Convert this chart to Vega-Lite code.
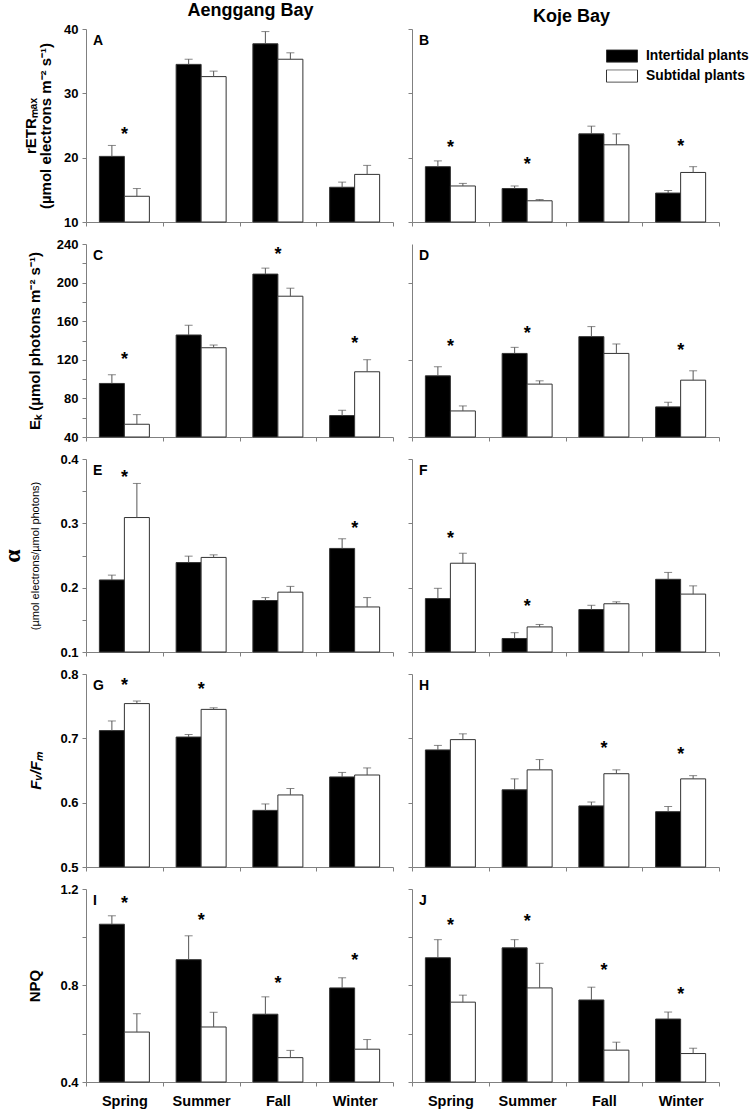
{
 "$schema": "https://vega.github.io/schema/vega-lite/v6.json",
 "padding": {"left": 0, "top": 2, "right": 34, "bottom": 2},
 "background": "white",
 "columns": 2,
 "spacing": {"row": 22, "column": 19},
 "bounds": "flush",
 "resolve": {"scale": {"fill": "independent"}, "legend": {"fill": "independent"}},
 "datasets": {
  "bars": [
   {"p":"A","s":"Spring","g":"Intertidal plants","v":20.2,"e":21.9},
   {"p":"A","s":"Spring","g":"Subtidal plants","v":14.0,"e":15.2},
   {"p":"A","s":"Summer","g":"Intertidal plants","v":34.5,"e":35.3},
   {"p":"A","s":"Summer","g":"Subtidal plants","v":32.6,"e":33.45},
   {"p":"A","s":"Fall","g":"Intertidal plants","v":37.7,"e":39.6},
   {"p":"A","s":"Fall","g":"Subtidal plants","v":35.3,"e":36.3},
   {"p":"A","s":"Winter","g":"Intertidal plants","v":15.4,"e":16.2},
   {"p":"A","s":"Winter","g":"Subtidal plants","v":17.4,"e":18.8},
   {"p":"B","s":"Spring","g":"Intertidal plants","v":18.6,"e":19.5},
   {"p":"B","s":"Spring","g":"Subtidal plants","v":15.6,"e":16.0},
   {"p":"B","s":"Summer","g":"Intertidal plants","v":15.2,"e":15.6},
   {"p":"B","s":"Summer","g":"Subtidal plants","v":13.3,"e":13.5},
   {"p":"B","s":"Fall","g":"Intertidal plants","v":23.7,"e":24.9},
   {"p":"B","s":"Fall","g":"Subtidal plants","v":22.0,"e":23.7},
   {"p":"B","s":"Winter","g":"Intertidal plants","v":14.5,"e":14.9},
   {"p":"B","s":"Winter","g":"Subtidal plants","v":17.7,"e":18.6},
   {"p":"C","s":"Spring","g":"Intertidal plants","v":95.5,"e":104.5},
   {"p":"C","s":"Spring","g":"Subtidal plants","v":53.2,"e":63.2},
   {"p":"C","s":"Summer","g":"Intertidal plants","v":145.7,"e":155.8},
   {"p":"C","s":"Summer","g":"Subtidal plants","v":132.5,"e":135.3},
   {"p":"C","s":"Fall","g":"Intertidal plants","v":208.8,"e":215},
   {"p":"C","s":"Fall","g":"Subtidal plants","v":185.9,"e":194.2},
   {"p":"C","s":"Winter","g":"Intertidal plants","v":62.2,"e":67.7},
   {"p":"C","s":"Winter","g":"Subtidal plants","v":107.6,"e":120.1},
   {"p":"D","s":"Spring","g":"Intertidal plants","v":103.4,"e":112.8},
   {"p":"D","s":"Spring","g":"Subtidal plants","v":67,"e":72.2},
   {"p":"D","s":"Summer","g":"Intertidal plants","v":126.6,"e":132.9},
   {"p":"D","s":"Summer","g":"Subtidal plants","v":94.8,"e":98.2},
   {"p":"D","s":"Fall","g":"Intertidal plants","v":144,"e":154.4},
   {"p":"D","s":"Fall","g":"Subtidal plants","v":126.6,"e":136.4},
   {"p":"D","s":"Winter","g":"Intertidal plants","v":71.2,"e":76},
   {"p":"D","s":"Winter","g":"Subtidal plants","v":98.9,"e":108.6},
   {"p":"E","s":"Spring","g":"Intertidal plants","v":0.212,"e":0.2195},
   {"p":"E","s":"Spring","g":"Subtidal plants","v":0.309,"e":0.362},
   {"p":"E","s":"Summer","g":"Intertidal plants","v":0.239,"e":0.249},
   {"p":"E","s":"Summer","g":"Subtidal plants","v":0.247,"e":0.251},
   {"p":"E","s":"Fall","g":"Intertidal plants","v":0.180,"e":0.1846},
   {"p":"E","s":"Fall","g":"Subtidal plants","v":0.193,"e":0.202},
   {"p":"E","s":"Winter","g":"Intertidal plants","v":0.261,"e":0.276},
   {"p":"E","s":"Winter","g":"Subtidal plants","v":0.170,"e":0.1846},
   {"p":"F","s":"Spring","g":"Intertidal plants","v":0.183,"e":0.199},
   {"p":"F","s":"Spring","g":"Subtidal plants","v":0.238,"e":0.2535},
   {"p":"F","s":"Summer","g":"Intertidal plants","v":0.121,"e":0.130},
   {"p":"F","s":"Summer","g":"Subtidal plants","v":0.139,"e":0.1428},
   {"p":"F","s":"Fall","g":"Intertidal plants","v":0.166,"e":0.1726},
   {"p":"F","s":"Fall","g":"Subtidal plants","v":0.175,"e":0.178},
   {"p":"F","s":"Winter","g":"Intertidal plants","v":0.213,"e":0.2237},
   {"p":"F","s":"Winter","g":"Subtidal plants","v":0.190,"e":0.2028},
   {"p":"G","s":"Spring","g":"Intertidal plants","v":0.712,"e":0.727},
   {"p":"G","s":"Spring","g":"Subtidal plants","v":0.754,"e":0.758},
   {"p":"G","s":"Summer","g":"Intertidal plants","v":0.702,"e":0.706},
   {"p":"G","s":"Summer","g":"Subtidal plants","v":0.745,"e":0.7475},
   {"p":"G","s":"Fall","g":"Intertidal plants","v":0.588,"e":0.598},
   {"p":"G","s":"Fall","g":"Subtidal plants","v":0.612,"e":0.622},
   {"p":"G","s":"Winter","g":"Intertidal plants","v":0.640,"e":0.647},
   {"p":"G","s":"Winter","g":"Subtidal plants","v":0.643,"e":0.654},
   {"p":"H","s":"Spring","g":"Intertidal plants","v":0.682,"e":0.689},
   {"p":"H","s":"Spring","g":"Subtidal plants","v":0.698,"e":0.707},
   {"p":"H","s":"Summer","g":"Intertidal plants","v":0.620,"e":0.637},
   {"p":"H","s":"Summer","g":"Subtidal plants","v":0.651,"e":0.667},
   {"p":"H","s":"Fall","g":"Intertidal plants","v":0.595,"e":0.601},
   {"p":"H","s":"Fall","g":"Subtidal plants","v":0.645,"e":0.651},
   {"p":"H","s":"Winter","g":"Intertidal plants","v":0.586,"e":0.594},
   {"p":"H","s":"Winter","g":"Subtidal plants","v":0.637,"e":0.642},
   {"p":"I","s":"Spring","g":"Intertidal plants","v":1.054,"e":1.089},
   {"p":"I","s":"Spring","g":"Subtidal plants","v":0.607,"e":0.683},
   {"p":"I","s":"Summer","g":"Intertidal plants","v":0.907,"e":1.006},
   {"p":"I","s":"Summer","g":"Subtidal plants","v":0.628,"e":0.689},
   {"p":"I","s":"Fall","g":"Intertidal plants","v":0.681,"e":0.753},
   {"p":"I","s":"Fall","g":"Subtidal plants","v":0.501,"e":0.531},
   {"p":"I","s":"Winter","g":"Intertidal plants","v":0.790,"e":0.832},
   {"p":"I","s":"Winter","g":"Subtidal plants","v":0.536,"e":0.576},
   {"p":"J","s":"Spring","g":"Intertidal plants","v":0.915,"e":0.990},
   {"p":"J","s":"Spring","g":"Subtidal plants","v":0.731,"e":0.760},
   {"p":"J","s":"Summer","g":"Intertidal plants","v":0.956,"e":0.990},
   {"p":"J","s":"Summer","g":"Subtidal plants","v":0.790,"e":0.892},
   {"p":"J","s":"Fall","g":"Intertidal plants","v":0.740,"e":0.793},
   {"p":"J","s":"Fall","g":"Subtidal plants","v":0.532,"e":0.565},
   {"p":"J","s":"Winter","g":"Intertidal plants","v":0.661,"e":0.690},
   {"p":"J","s":"Winter","g":"Subtidal plants","v":0.518,"e":0.540}
  ],
  "stars": [
   {"p":"A","s":"Spring","y":24.3},
   {"p":"B","s":"Spring","y":22.3},{"p":"B","s":"Summer","y":19.6},{"p":"B","s":"Winter","y":22.5},
   {"p":"C","s":"Spring","y":124.9},{"p":"C","s":"Fall","y":234},{"p":"C","s":"Winter","y":142},
   {"p":"D","s":"Spring","y":138.8},{"p":"D","s":"Summer","y":152},{"p":"D","s":"Winter","y":134.6},
   {"p":"E","s":"Spring","y":0.379},{"p":"E","s":"Winter","y":0.299},
   {"p":"F","s":"Spring","y":0.284},{"p":"F","s":"Summer","y":0.177},
   {"p":"G","s":"Spring","y":0.789},{"p":"G","s":"Summer","y":0.783},
   {"p":"H","s":"Fall","y":0.691},{"p":"H","s":"Winter","y":0.682},
   {"p":"I","s":"Spring","y":1.158},{"p":"I","s":"Summer","y":1.089},{"p":"I","s":"Fall","y":0.825},{"p":"I","s":"Winter","y":0.922},
   {"p":"J","s":"Spring","y":1.068},{"p":"J","s":"Summer","y":1.082},{"p":"J","s":"Fall","y":0.881},{"p":"J","s":"Winter","y":0.783}
  ],
  "letters": [
   {"p":"A","s":"Spring","y":40},{"p":"B","s":"Spring","y":40},
   {"p":"C","s":"Spring","y":240},{"p":"D","s":"Spring","y":240},
   {"p":"E","s":"Spring","y":0.4},{"p":"F","s":"Spring","y":0.4},
   {"p":"G","s":"Spring","y":0.8},{"p":"H","s":"Spring","y":0.8},
   {"p":"I","s":"Spring","y":1.2},{"p":"J","s":"Spring","y":1.2}
  ]
 },
 "concat": [
  {
   "width": 307, "height": 193,
   "title": {"text": "Aenggang Bay", "fontSize": 18, "fontWeight": "bold", "offset": 3, "dx": 11},
   "layer": [
    {"data":{"name":"bars"},"transform":[{"filter":"datum.p==='A'"}],
     "mark":{"type":"bar","stroke":"#333","strokeWidth":1},
     "encoding":{
      "x":{"field":"s","type":"nominal","sort":["Spring","Summer","Fall","Winter"],"scale":{"paddingInner":0,"paddingOuter":0},"axis":{"title":null,"labels":false,"tickBand":"extent"}},
      "xOffset":{"field":"g","type":"nominal","sort":["Intertidal plants","Subtidal plants"],"scale":{"paddingInner":0,"paddingOuter":0.535}},
      "y":{"field":"v","type":"quantitative","scale":{"domain":[10,40],"nice":false,"zero":false},
           "axis":{"title":["rETRₘₐₓ","(µmol electrons m⁻² s⁻¹)"],"titleLineHeight":15,"titlePadding":10,"labelOverlap":false,"values":[10,15,20,25,30,35,40],"labelExpr":"datum.value % 10 === 0 ? datum.label : ''"}},
      "y2":{"datum":10},
      "fill":{"field":"g","type":"nominal","scale":{"domain":["Intertidal plants","Subtidal plants"],"range":["#000000","#ffffff"]},"legend":null}
     }},
    {"data":{"name":"bars"},"transform":[{"filter":"datum.p==='A'"}],
     "mark":{"type":"rule","color":"#555"},
     "encoding":{"x":{"field":"s","type":"nominal","sort":["Spring","Summer","Fall","Winter"]},"xOffset":{"field":"g","type":"nominal","sort":["Intertidal plants","Subtidal plants"]},"y":{"field":"e","type":"quantitative"},"y2":{"field":"v"}}},
    {"data":{"name":"bars"},"transform":[{"filter":"datum.p==='A'"}],
     "mark":{"type":"tick","color":"#555","size":8,"thickness":1},
     "encoding":{"x":{"field":"s","type":"nominal","sort":["Spring","Summer","Fall","Winter"]},"xOffset":{"field":"g","type":"nominal","sort":["Intertidal plants","Subtidal plants"]},"y":{"field":"e","type":"quantitative"}}},
    {"data":{"name":"stars"},"transform":[{"filter":"datum.p==='A'"}],
     "mark":{"type":"text","text":"*","fontSize":18,"fontWeight":"bold","baseline":"alphabetic","dy":10},
     "encoding":{"x":{"field":"s","type":"nominal","sort":["Spring","Summer","Fall","Winter"]},"y":{"field":"y","type":"quantitative"}}},
    {"data":{"name":"letters"},"transform":[{"filter":"datum.p==='A'"}],
     "mark":{"type":"text","align":"left","baseline":"top","dx":7,"dy":5,"fontSize":14,"fontWeight":"bold"},
     "encoding":{"x":{"field":"s","type":"nominal","sort":["Spring","Summer","Fall","Winter"],"bandPosition":0},"y":{"field":"y","type":"quantitative"},"text":{"field":"p"}}}
   ]
  },
  {
   "width": 307, "height": 193,
   "title": {"text": "Koje Bay", "fontSize": 18, "fontWeight": "bold", "offset": 3, "dx": 6},
   "layer": [
    {"data":{"name":"bars"},"transform":[{"filter":"datum.p==='B'"}],
     "mark":{"type":"bar","stroke":"#333","strokeWidth":1},
     "encoding":{
      "x":{"field":"s","type":"nominal","sort":["Spring","Summer","Fall","Winter"],"scale":{"paddingInner":0,"paddingOuter":0},"axis":{"title":null,"labels":false,"tickBand":"extent"}},
      "xOffset":{"field":"g","type":"nominal","sort":["Intertidal plants","Subtidal plants"],"scale":{"paddingInner":0,"paddingOuter":0.535}},
      "y":{"field":"v","type":"quantitative","scale":{"domain":[10,40],"nice":false,"zero":false},
           "axis":{"title":null,"labels":false,"values":[10,15,20,25,30,35,40]}},
      "y2":{"datum":10},
      "fill":{"field":"g","type":"nominal","scale":{"domain":["Intertidal plants","Subtidal plants"],"range":["#000000","#ffffff"]},
              "legend":{"orient":"none","legendX":194,"legendY":20.5,"title":null,"symbolType":"M-1,-0.4H1V0.4H-1Z","symbolSize":961,"symbolStrokeColor":"#333","symbolStrokeWidth":1,"labelFont":"Liberation Sans","labelFontSize":13.8,"labelFontWeight":"bold","labelColor":"#000","labelOffset":8,"rowPadding":5,"clipHeight":13,"padding":0}}
     }},
    {"data":{"name":"bars"},"transform":[{"filter":"datum.p==='B'"}],
     "mark":{"type":"rule","color":"#555"},
     "encoding":{"x":{"field":"s","type":"nominal","sort":["Spring","Summer","Fall","Winter"]},"xOffset":{"field":"g","type":"nominal","sort":["Intertidal plants","Subtidal plants"]},"y":{"field":"e","type":"quantitative"},"y2":{"field":"v"}}},
    {"data":{"name":"bars"},"transform":[{"filter":"datum.p==='B'"}],
     "mark":{"type":"tick","color":"#555","size":8,"thickness":1},
     "encoding":{"x":{"field":"s","type":"nominal","sort":["Spring","Summer","Fall","Winter"]},"xOffset":{"field":"g","type":"nominal","sort":["Intertidal plants","Subtidal plants"]},"y":{"field":"e","type":"quantitative"}}},
    {"data":{"name":"stars"},"transform":[{"filter":"datum.p==='B'"}],
     "mark":{"type":"text","text":"*","fontSize":18,"fontWeight":"bold","baseline":"alphabetic","dy":10},
     "encoding":{"x":{"field":"s","type":"nominal","sort":["Spring","Summer","Fall","Winter"]},"y":{"field":"y","type":"quantitative"}}},
    {"data":{"name":"letters"},"transform":[{"filter":"datum.p==='B'"}],
     "mark":{"type":"text","align":"left","baseline":"top","dx":7,"dy":5,"fontSize":14,"fontWeight":"bold"},
     "encoding":{"x":{"field":"s","type":"nominal","sort":["Spring","Summer","Fall","Winter"],"bandPosition":0},"y":{"field":"y","type":"quantitative"},"text":{"field":"p"}}}
   ]
  },
  {
   "width": 307, "height": 193,
   "resolve": {"axis": {"y": "independent"}},
   "layer": [
    {"data":{"name":"bars"},"transform":[{"filter":"datum.p==='C'"}],
     "mark":{"type":"bar","stroke":"#333","strokeWidth":1},
     "encoding":{
      "x":{"field":"s","type":"nominal","sort":["Spring","Summer","Fall","Winter"],"scale":{"paddingInner":0,"paddingOuter":0},"axis":{"title":null,"labels":false,"tickBand":"extent"}},
      "xOffset":{"field":"g","type":"nominal","sort":["Intertidal plants","Subtidal plants"],"scale":{"paddingInner":0,"paddingOuter":0.535}},
      "y":{"field":"v","type":"quantitative","scale":{"domain":[40,240],"nice":false,"zero":false},
           "axis":{"title":"Eₖ (µmol photons m⁻² s⁻¹)","titlePadding":14,"labelOverlap":false,"values":[40,80,120,160,200,240]}},
      "y2":{"datum":40},
      "fill":{"field":"g","type":"nominal","scale":{"domain":["Intertidal plants","Subtidal plants"],"range":["#000000","#ffffff"]},"legend":null}
     }},
    {"data":{"name":"bars"},"transform":[{"filter":"datum.p==='C'"}],
     "mark":{"type":"rule","color":"#555"},
     "encoding":{"x":{"field":"s","type":"nominal","sort":["Spring","Summer","Fall","Winter"]},"xOffset":{"field":"g","type":"nominal","sort":["Intertidal plants","Subtidal plants"]},
       "y":{"field":"e","type":"quantitative","axis":{"orient":"left","title":null,"labels":false,"domain":false,"values":[60,100,140,180,220]}},"y2":{"field":"v"}}},
    {"data":{"name":"bars"},"transform":[{"filter":"datum.p==='C'"}],
     "mark":{"type":"tick","color":"#555","size":8,"thickness":1},
     "encoding":{"x":{"field":"s","type":"nominal","sort":["Spring","Summer","Fall","Winter"]},"xOffset":{"field":"g","type":"nominal","sort":["Intertidal plants","Subtidal plants"]},"y":{"field":"e","type":"quantitative","axis":null}}},
    {"data":{"name":"stars"},"transform":[{"filter":"datum.p==='C'"}],
     "mark":{"type":"text","text":"*","fontSize":18,"fontWeight":"bold","baseline":"alphabetic","dy":10},
     "encoding":{"x":{"field":"s","type":"nominal","sort":["Spring","Summer","Fall","Winter"]},"y":{"field":"y","type":"quantitative","axis":null}}},
    {"data":{"name":"letters"},"transform":[{"filter":"datum.p==='C'"}],
     "mark":{"type":"text","align":"left","baseline":"top","dx":7,"dy":5,"fontSize":14,"fontWeight":"bold"},
     "encoding":{"x":{"field":"s","type":"nominal","sort":["Spring","Summer","Fall","Winter"],"bandPosition":0},"y":{"field":"y","type":"quantitative","axis":null},"text":{"field":"p"}}}
   ]
  },
  {
   "width": 307, "height": 193,
   "layer": [
    {"data":{"name":"bars"},"transform":[{"filter":"datum.p==='D'"}],
     "mark":{"type":"bar","stroke":"#333","strokeWidth":1},
     "encoding":{
      "x":{"field":"s","type":"nominal","sort":["Spring","Summer","Fall","Winter"],"scale":{"paddingInner":0,"paddingOuter":0},"axis":{"title":null,"labels":false,"tickBand":"extent"}},
      "xOffset":{"field":"g","type":"nominal","sort":["Intertidal plants","Subtidal plants"],"scale":{"paddingInner":0,"paddingOuter":0.535}},
      "y":{"field":"v","type":"quantitative","scale":{"domain":[40,240],"nice":false,"zero":false},
           "axis":{"title":null,"labels":false,"values":[40,60,80,100,120,140,160,180,200,220,240]}},
      "y2":{"datum":40},
      "fill":{"field":"g","type":"nominal","scale":{"domain":["Intertidal plants","Subtidal plants"],"range":["#000000","#ffffff"]},"legend":null}
     }},
    {"data":{"name":"bars"},"transform":[{"filter":"datum.p==='D'"}],
     "mark":{"type":"rule","color":"#555"},
     "encoding":{"x":{"field":"s","type":"nominal","sort":["Spring","Summer","Fall","Winter"]},"xOffset":{"field":"g","type":"nominal","sort":["Intertidal plants","Subtidal plants"]},"y":{"field":"e","type":"quantitative"},"y2":{"field":"v"}}},
    {"data":{"name":"bars"},"transform":[{"filter":"datum.p==='D'"}],
     "mark":{"type":"tick","color":"#555","size":8,"thickness":1},
     "encoding":{"x":{"field":"s","type":"nominal","sort":["Spring","Summer","Fall","Winter"]},"xOffset":{"field":"g","type":"nominal","sort":["Intertidal plants","Subtidal plants"]},"y":{"field":"e","type":"quantitative"}}},
    {"data":{"name":"stars"},"transform":[{"filter":"datum.p==='D'"}],
     "mark":{"type":"text","text":"*","fontSize":18,"fontWeight":"bold","baseline":"alphabetic","dy":10},
     "encoding":{"x":{"field":"s","type":"nominal","sort":["Spring","Summer","Fall","Winter"]},"y":{"field":"y","type":"quantitative"}}},
    {"data":{"name":"letters"},"transform":[{"filter":"datum.p==='D'"}],
     "mark":{"type":"text","align":"left","baseline":"top","dx":7,"dy":5,"fontSize":14,"fontWeight":"bold"},
     "encoding":{"x":{"field":"s","type":"nominal","sort":["Spring","Summer","Fall","Winter"],"bandPosition":0},"y":{"field":"y","type":"quantitative"},"text":{"field":"p"}}}
   ]
  },
  {
   "width": 307, "height": 193,
   "resolve": {"axis": {"y": "independent"}},
   "layer": [
    {"data":{"name":"bars"},"transform":[{"filter":"datum.p==='E'"}],
     "mark":{"type":"bar","stroke":"#333","strokeWidth":1},
     "encoding":{
      "x":{"field":"s","type":"nominal","sort":["Spring","Summer","Fall","Winter"],"scale":{"paddingInner":0,"paddingOuter":0},"axis":{"title":null,"labels":false,"tickBand":"extent"}},
      "xOffset":{"field":"g","type":"nominal","sort":["Intertidal plants","Subtidal plants"],"scale":{"paddingInner":0,"paddingOuter":0.535}},
      "y":{"field":"v","type":"quantitative","scale":{"domain":[0.1,0.4],"nice":false,"zero":false},
           "axis":{"title":"α","titleFont":"Liberation Serif","titleFontSize":24,"titlePadding":35,"labelOverlap":false,"values":[0.1,0.15,0.2,0.25,0.3,0.35,0.4],"labelExpr":"abs(datum.value*10 - round(datum.value*10)) < 0.01 ? format(datum.value, '.1f') : ''"}},
      "y2":{"datum":0.1},
      "fill":{"field":"g","type":"nominal","scale":{"domain":["Intertidal plants","Subtidal plants"],"range":["#000000","#ffffff"]},"legend":null}
     }},
    {"data":{"name":"bars"},"transform":[{"filter":"datum.p==='E'"}],
     "mark":{"type":"rule","color":"#555"},
     "encoding":{"x":{"field":"s","type":"nominal","sort":["Spring","Summer","Fall","Winter"]},"xOffset":{"field":"g","type":"nominal","sort":["Intertidal plants","Subtidal plants"]},
       "y":{"field":"e","type":"quantitative","axis":{"orient":"left","title":"(µmol electrons/µmol photons)","titleFontSize":11,"titleFontWeight":"normal","labels":false,"ticks":false,"domain":false,"titlePadding":46}},"y2":{"field":"v"}}},
    {"data":{"name":"bars"},"transform":[{"filter":"datum.p==='E'"}],
     "mark":{"type":"tick","color":"#555","size":8,"thickness":1},
     "encoding":{"x":{"field":"s","type":"nominal","sort":["Spring","Summer","Fall","Winter"]},"xOffset":{"field":"g","type":"nominal","sort":["Intertidal plants","Subtidal plants"]},"y":{"field":"e","type":"quantitative","axis":null}}},
    {"data":{"name":"stars"},"transform":[{"filter":"datum.p==='E'"}],
     "mark":{"type":"text","text":"*","fontSize":18,"fontWeight":"bold","baseline":"alphabetic","dy":10},
     "encoding":{"x":{"field":"s","type":"nominal","sort":["Spring","Summer","Fall","Winter"]},"y":{"field":"y","type":"quantitative","axis":null}}},
    {"data":{"name":"letters"},"transform":[{"filter":"datum.p==='E'"}],
     "mark":{"type":"text","align":"left","baseline":"top","dx":7,"dy":5,"fontSize":14,"fontWeight":"bold"},
     "encoding":{"x":{"field":"s","type":"nominal","sort":["Spring","Summer","Fall","Winter"],"bandPosition":0},"y":{"field":"y","type":"quantitative","axis":null},"text":{"field":"p"}}}
   ]
  },
  {
   "width": 307, "height": 193,
   "layer": [
    {"data":{"name":"bars"},"transform":[{"filter":"datum.p==='F'"}],
     "mark":{"type":"bar","stroke":"#333","strokeWidth":1},
     "encoding":{
      "x":{"field":"s","type":"nominal","sort":["Spring","Summer","Fall","Winter"],"scale":{"paddingInner":0,"paddingOuter":0},"axis":{"title":null,"labels":false,"tickBand":"extent"}},
      "xOffset":{"field":"g","type":"nominal","sort":["Intertidal plants","Subtidal plants"],"scale":{"paddingInner":0,"paddingOuter":0.535}},
      "y":{"field":"v","type":"quantitative","scale":{"domain":[0.1,0.4],"nice":false,"zero":false},
           "axis":{"title":null,"labels":false,"values":[0.1,0.15,0.2,0.25,0.3,0.35,0.4]}},
      "y2":{"datum":0.1},
      "fill":{"field":"g","type":"nominal","scale":{"domain":["Intertidal plants","Subtidal plants"],"range":["#000000","#ffffff"]},"legend":null}
     }},
    {"data":{"name":"bars"},"transform":[{"filter":"datum.p==='F'"}],
     "mark":{"type":"rule","color":"#555"},
     "encoding":{"x":{"field":"s","type":"nominal","sort":["Spring","Summer","Fall","Winter"]},"xOffset":{"field":"g","type":"nominal","sort":["Intertidal plants","Subtidal plants"]},"y":{"field":"e","type":"quantitative"},"y2":{"field":"v"}}},
    {"data":{"name":"bars"},"transform":[{"filter":"datum.p==='F'"}],
     "mark":{"type":"tick","color":"#555","size":8,"thickness":1},
     "encoding":{"x":{"field":"s","type":"nominal","sort":["Spring","Summer","Fall","Winter"]},"xOffset":{"field":"g","type":"nominal","sort":["Intertidal plants","Subtidal plants"]},"y":{"field":"e","type":"quantitative"}}},
    {"data":{"name":"stars"},"transform":[{"filter":"datum.p==='F'"}],
     "mark":{"type":"text","text":"*","fontSize":18,"fontWeight":"bold","baseline":"alphabetic","dy":10},
     "encoding":{"x":{"field":"s","type":"nominal","sort":["Spring","Summer","Fall","Winter"]},"y":{"field":"y","type":"quantitative"}}},
    {"data":{"name":"letters"},"transform":[{"filter":"datum.p==='F'"}],
     "mark":{"type":"text","align":"left","baseline":"top","dx":7,"dy":5,"fontSize":14,"fontWeight":"bold"},
     "encoding":{"x":{"field":"s","type":"nominal","sort":["Spring","Summer","Fall","Winter"],"bandPosition":0},"y":{"field":"y","type":"quantitative"},"text":{"field":"p"}}}
   ]
  },
  {
   "width": 307, "height": 193,
   "layer": [
    {"data":{"name":"bars"},"transform":[{"filter":"datum.p==='G'"}],
     "mark":{"type":"bar","stroke":"#333","strokeWidth":1},
     "encoding":{
      "x":{"field":"s","type":"nominal","sort":["Spring","Summer","Fall","Winter"],"scale":{"paddingInner":0,"paddingOuter":0},"axis":{"title":null,"labels":false,"tickBand":"extent"}},
      "xOffset":{"field":"g","type":"nominal","sort":["Intertidal plants","Subtidal plants"],"scale":{"paddingInner":0,"paddingOuter":0.535}},
      "y":{"field":"v","type":"quantitative","scale":{"domain":[0.5,0.8],"nice":false,"zero":false},
           "axis":{"title":"Fᵥ/Fₘ","titleFontStyle":"italic","titlePadding":16,"labelOverlap":false,"values":[0.5,0.55,0.6,0.65,0.7,0.75,0.8],"labelExpr":"abs(datum.value*10 - round(datum.value*10)) < 0.01 ? format(datum.value, '.1f') : ''"}},
      "y2":{"datum":0.5},
      "fill":{"field":"g","type":"nominal","scale":{"domain":["Intertidal plants","Subtidal plants"],"range":["#000000","#ffffff"]},"legend":null}
     }},
    {"data":{"name":"bars"},"transform":[{"filter":"datum.p==='G'"}],
     "mark":{"type":"rule","color":"#555"},
     "encoding":{"x":{"field":"s","type":"nominal","sort":["Spring","Summer","Fall","Winter"]},"xOffset":{"field":"g","type":"nominal","sort":["Intertidal plants","Subtidal plants"]},"y":{"field":"e","type":"quantitative"},"y2":{"field":"v"}}},
    {"data":{"name":"bars"},"transform":[{"filter":"datum.p==='G'"}],
     "mark":{"type":"tick","color":"#555","size":8,"thickness":1},
     "encoding":{"x":{"field":"s","type":"nominal","sort":["Spring","Summer","Fall","Winter"]},"xOffset":{"field":"g","type":"nominal","sort":["Intertidal plants","Subtidal plants"]},"y":{"field":"e","type":"quantitative"}}},
    {"data":{"name":"stars"},"transform":[{"filter":"datum.p==='G'"}],
     "mark":{"type":"text","text":"*","fontSize":18,"fontWeight":"bold","baseline":"alphabetic","dy":10},
     "encoding":{"x":{"field":"s","type":"nominal","sort":["Spring","Summer","Fall","Winter"]},"y":{"field":"y","type":"quantitative"}}},
    {"data":{"name":"letters"},"transform":[{"filter":"datum.p==='G'"}],
     "mark":{"type":"text","align":"left","baseline":"top","dx":7,"dy":5,"fontSize":14,"fontWeight":"bold"},
     "encoding":{"x":{"field":"s","type":"nominal","sort":["Spring","Summer","Fall","Winter"],"bandPosition":0},"y":{"field":"y","type":"quantitative"},"text":{"field":"p"}}}
   ]
  },
  {
   "width": 307, "height": 193,
   "layer": [
    {"data":{"name":"bars"},"transform":[{"filter":"datum.p==='H'"}],
     "mark":{"type":"bar","stroke":"#333","strokeWidth":1},
     "encoding":{
      "x":{"field":"s","type":"nominal","sort":["Spring","Summer","Fall","Winter"],"scale":{"paddingInner":0,"paddingOuter":0},"axis":{"title":null,"labels":false,"tickBand":"extent"}},
      "xOffset":{"field":"g","type":"nominal","sort":["Intertidal plants","Subtidal plants"],"scale":{"paddingInner":0,"paddingOuter":0.535}},
      "y":{"field":"v","type":"quantitative","scale":{"domain":[0.5,0.8],"nice":false,"zero":false},
           "axis":{"title":null,"labels":false,"values":[0.5,0.55,0.6,0.65,0.7,0.75,0.8]}},
      "y2":{"datum":0.5},
      "fill":{"field":"g","type":"nominal","scale":{"domain":["Intertidal plants","Subtidal plants"],"range":["#000000","#ffffff"]},"legend":null}
     }},
    {"data":{"name":"bars"},"transform":[{"filter":"datum.p==='H'"}],
     "mark":{"type":"rule","color":"#555"},
     "encoding":{"x":{"field":"s","type":"nominal","sort":["Spring","Summer","Fall","Winter"]},"xOffset":{"field":"g","type":"nominal","sort":["Intertidal plants","Subtidal plants"]},"y":{"field":"e","type":"quantitative"},"y2":{"field":"v"}}},
    {"data":{"name":"bars"},"transform":[{"filter":"datum.p==='H'"}],
     "mark":{"type":"tick","color":"#555","size":8,"thickness":1},
     "encoding":{"x":{"field":"s","type":"nominal","sort":["Spring","Summer","Fall","Winter"]},"xOffset":{"field":"g","type":"nominal","sort":["Intertidal plants","Subtidal plants"]},"y":{"field":"e","type":"quantitative"}}},
    {"data":{"name":"stars"},"transform":[{"filter":"datum.p==='H'"}],
     "mark":{"type":"text","text":"*","fontSize":18,"fontWeight":"bold","baseline":"alphabetic","dy":10},
     "encoding":{"x":{"field":"s","type":"nominal","sort":["Spring","Summer","Fall","Winter"]},"y":{"field":"y","type":"quantitative"}}},
    {"data":{"name":"letters"},"transform":[{"filter":"datum.p==='H'"}],
     "mark":{"type":"text","align":"left","baseline":"top","dx":7,"dy":5,"fontSize":14,"fontWeight":"bold"},
     "encoding":{"x":{"field":"s","type":"nominal","sort":["Spring","Summer","Fall","Winter"],"bandPosition":0},"y":{"field":"y","type":"quantitative"},"text":{"field":"p"}}}
   ]
  },
  {
   "width": 307, "height": 193,
   "layer": [
    {"data":{"name":"bars"},"transform":[{"filter":"datum.p==='I'"}],
     "mark":{"type":"bar","stroke":"#333","strokeWidth":1},
     "encoding":{
      "x":{"field":"s","type":"nominal","sort":["Spring","Summer","Fall","Winter"],"scale":{"paddingInner":0,"paddingOuter":0},"axis":{"title":null,"tickBand":"extent"}},
      "xOffset":{"field":"g","type":"nominal","sort":["Intertidal plants","Subtidal plants"],"scale":{"paddingInner":0,"paddingOuter":0.535}},
      "y":{"field":"v","type":"quantitative","scale":{"domain":[0.4,1.2],"nice":false,"zero":false},
           "axis":{"title":"NPQ","titlePadding":17,"labelOverlap":false,"values":[0.4,0.6,0.8,1.0,1.2],"labelExpr":"abs(datum.value*2.5 - round(datum.value*2.5)) < 0.01 ? format(datum.value, '.1f') : ''"}},
      "y2":{"datum":0.4},
      "fill":{"field":"g","type":"nominal","scale":{"domain":["Intertidal plants","Subtidal plants"],"range":["#000000","#ffffff"]},"legend":null}
     }},
    {"data":{"name":"bars"},"transform":[{"filter":"datum.p==='I'"}],
     "mark":{"type":"rule","color":"#555"},
     "encoding":{"x":{"field":"s","type":"nominal","sort":["Spring","Summer","Fall","Winter"]},"xOffset":{"field":"g","type":"nominal","sort":["Intertidal plants","Subtidal plants"]},"y":{"field":"e","type":"quantitative"},"y2":{"field":"v"}}},
    {"data":{"name":"bars"},"transform":[{"filter":"datum.p==='I'"}],
     "mark":{"type":"tick","color":"#555","size":8,"thickness":1},
     "encoding":{"x":{"field":"s","type":"nominal","sort":["Spring","Summer","Fall","Winter"]},"xOffset":{"field":"g","type":"nominal","sort":["Intertidal plants","Subtidal plants"]},"y":{"field":"e","type":"quantitative"}}},
    {"data":{"name":"stars"},"transform":[{"filter":"datum.p==='I'"}],
     "mark":{"type":"text","text":"*","fontSize":18,"fontWeight":"bold","baseline":"alphabetic","dy":10},
     "encoding":{"x":{"field":"s","type":"nominal","sort":["Spring","Summer","Fall","Winter"]},"y":{"field":"y","type":"quantitative"}}},
    {"data":{"name":"letters"},"transform":[{"filter":"datum.p==='I'"}],
     "mark":{"type":"text","align":"left","baseline":"top","dx":7,"dy":5,"fontSize":14,"fontWeight":"bold"},
     "encoding":{"x":{"field":"s","type":"nominal","sort":["Spring","Summer","Fall","Winter"],"bandPosition":0},"y":{"field":"y","type":"quantitative"},"text":{"field":"p"}}}
   ]
  },
  {
   "width": 307, "height": 193,
   "layer": [
    {"data":{"name":"bars"},"transform":[{"filter":"datum.p==='J'"}],
     "mark":{"type":"bar","stroke":"#333","strokeWidth":1},
     "encoding":{
      "x":{"field":"s","type":"nominal","sort":["Spring","Summer","Fall","Winter"],"scale":{"paddingInner":0,"paddingOuter":0},"axis":{"title":null,"tickBand":"extent"}},
      "xOffset":{"field":"g","type":"nominal","sort":["Intertidal plants","Subtidal plants"],"scale":{"paddingInner":0,"paddingOuter":0.535}},
      "y":{"field":"v","type":"quantitative","scale":{"domain":[0.4,1.2],"nice":false,"zero":false},
           "axis":{"title":null,"labels":false,"values":[0.4,0.6,0.8,1.0,1.2]}},
      "y2":{"datum":0.4},
      "fill":{"field":"g","type":"nominal","scale":{"domain":["Intertidal plants","Subtidal plants"],"range":["#000000","#ffffff"]},"legend":null}
     }},
    {"data":{"name":"bars"},"transform":[{"filter":"datum.p==='J'"}],
     "mark":{"type":"rule","color":"#555"},
     "encoding":{"x":{"field":"s","type":"nominal","sort":["Spring","Summer","Fall","Winter"]},"xOffset":{"field":"g","type":"nominal","sort":["Intertidal plants","Subtidal plants"]},"y":{"field":"e","type":"quantitative"},"y2":{"field":"v"}}},
    {"data":{"name":"bars"},"transform":[{"filter":"datum.p==='J'"}],
     "mark":{"type":"tick","color":"#555","size":8,"thickness":1},
     "encoding":{"x":{"field":"s","type":"nominal","sort":["Spring","Summer","Fall","Winter"]},"xOffset":{"field":"g","type":"nominal","sort":["Intertidal plants","Subtidal plants"]},"y":{"field":"e","type":"quantitative"}}},
    {"data":{"name":"stars"},"transform":[{"filter":"datum.p==='J'"}],
     "mark":{"type":"text","text":"*","fontSize":18,"fontWeight":"bold","baseline":"alphabetic","dy":10},
     "encoding":{"x":{"field":"s","type":"nominal","sort":["Spring","Summer","Fall","Winter"]},"y":{"field":"y","type":"quantitative"}}},
    {"data":{"name":"letters"},"transform":[{"filter":"datum.p==='J'"}],
     "mark":{"type":"text","align":"left","baseline":"top","dx":7,"dy":5,"fontSize":14,"fontWeight":"bold"},
     "encoding":{"x":{"field":"s","type":"nominal","sort":["Spring","Summer","Fall","Winter"],"bandPosition":0},"y":{"field":"y","type":"quantitative"},"text":{"field":"p"}}}
   ]
  }
 ],
 "config": {
  "font": "Liberation Sans",
  "view": {"stroke": null},
  "title": {"font": "Liberation Sans", "color": "#000"},
  "axis": {"domainColor": "#808080", "tickColor": "#808080", "tickSize": 4, "grid": false, "labelOverlap": false,
           "labelFont": "Liberation Sans", "labelFontWeight": "bold", "labelFontSize": 13, "labelColor": "#000",
           "titleFont": "Liberation Sans", "titleFontWeight": "bold", "titleFontSize": 15, "titleColor": "#000"},
  "axisX": {"labelFontSize": 14.5, "labelPadding": 8, "labelAngle": 0},
  "axisY": {"labelPadding": 4}
 }
}
